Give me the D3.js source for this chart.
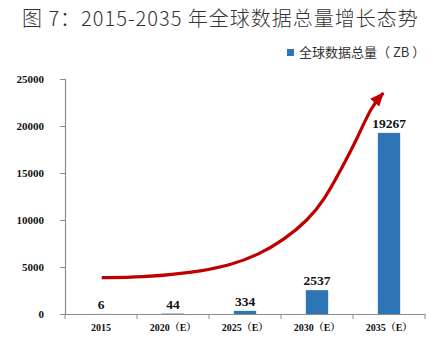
<!DOCTYPE html>
<html><head><meta charset="utf-8">
<script src="https://cdn.jsdelivr.net/npm/d3@7/dist/d3.min.js"></script>
<style>
html,body{margin:0;padding:0;background:#fff;}
svg{display:block;}
</style></head>
<body>
<script>
const categories = ["2015", "2020（E）", "2025（E）", "2030（E）", "2035（E）"];
const values = [6, 44, 334, 2537, 19267];
const yTicks = [0, 5000, 10000, 15000, 20000, 25000];
const seriesName = "全球数据总量（ ZB ）";
const titleText = "图 7：2015-2035 年全球数据总量增长态势";
// decorative trend arrow, in category-index units and value units
const trendX = [0.01, 0.56, 1.25, 1.81, 2.18, 2.54, 2.875, 3.10, 3.33, 3.57, 3.75, 3.92];
const trendY = [3860, 3900, 4360, 5210, 6280, 7870, 10000, 12130, 15320, 18830, 22020, 23510];

const W = 438, H = 344;
const svg = d3.select("body").append("svg").attr("width", W).attr("height", H);
const serif = "'Times New Roman','Liberation Serif','Noto Serif CJK SC','Noto Sans CJK SC',serif";
const sans = "'Noto Sans CJK SC',sans-serif";
const axisColor = "#8c8c8c";

const x = d3.scaleBand().domain(categories).range([65, 425]).paddingInner(0.69).paddingOuter(0.345);
const y = d3.scaleLinear().domain([0, 25000]).range([314, 79]);
const step = 72;
const xi = d3.scaleLinear().domain([0, 1]).range([65 + step / 2, 65 + step * 1.5]);

// title
svg.append("text").attr("x", 22).attr("y", 26)
  .attr("font-family", sans).attr("font-size", 20).attr("font-weight", 300)
  .attr("letter-spacing", 1).attr("fill", "#333")
  .text(titleText);

// legend
svg.append("rect").attr("x", 287).attr("y", 49).attr("width", 7).attr("height", 7).attr("fill", "#2e75b6");
svg.append("text").attr("x", 299).attr("y", 57)
  .attr("font-family", sans).attr("font-size", 13).attr("fill", "#333")
  .text(seriesName);

// y axis
const yAxis = d3.axisLeft(y).tickValues(yTicks).tickSize(5).tickPadding(16).tickFormat(d3.format("d"));
const gy = svg.append("g").attr("transform", "translate(65,0)").call(yAxis);
gy.select(".domain").attr("stroke", axisColor).attr("stroke-width", 1.2);
gy.selectAll(".tick line").attr("stroke", axisColor);
gy.selectAll(".tick text").attr("font-family", serif).attr("font-weight", "bold")
  .attr("font-size", 11).attr("fill", "#111");

// bars
svg.append("g").selectAll("rect").data(values).join("rect")
  .attr("x", (d, i) => x(categories[i]))
  .attr("width", x.bandwidth())
  .attr("y", d => y(d))
  .attr("height", d => y(0) - y(d))
  .attr("fill", "#2e75b6");

// value labels
svg.append("g").selectAll("text").data(values).join("text")
  .attr("x", (d, i) => x(categories[i]) + x.bandwidth() / 2)
  .attr("y", d => y(d) - 5)
  .attr("text-anchor", "middle")
  .attr("font-family", serif).attr("font-weight", "bold").attr("font-size", 13.5).attr("fill", "#111")
  .text(d => d);

// x axis
const xAxis = d3.axisBottom(x).tickSize(0).tickPadding(10);
const gx = svg.append("g").attr("transform", "translate(0,314)").call(xAxis);
gx.select(".domain").attr("stroke", axisColor).attr("stroke-width", 1.2);
gx.selectAll(".tick text").attr("font-family", serif).attr("font-weight", "bold")
  .attr("font-size", 10).attr("fill", "#111");
gx.selectAll(".bound").data(d3.range(categories.length + 1)).join("line")
  .attr("class", "bound")
  .attr("x1", i => 65 + i * step).attr("x2", i => 65 + i * step)
  .attr("y1", 0).attr("y2", 5).attr("stroke", axisColor);

// trend arrow
const defs = svg.append("defs");
defs.append("marker").attr("id", "arr").attr("markerUnits", "userSpaceOnUse")
  .attr("markerWidth", 14).attr("markerHeight", 12).attr("refX", 13).attr("refY", 6)
  .attr("orient", "auto")
  .append("path").attr("d", "M0,0 L14,6 L0,12 Z").attr("fill", "#c00000");

const line = d3.line().x((d, i) => xi(trendX[i])).y(d => y(d)).curve(d3.curveBasis);
svg.append("path").datum(trendY).attr("d", line)
  .attr("fill", "none").attr("stroke", "#c00000").attr("stroke-width", 3.2)
  .attr("marker-end", "url(#arr)");
</script>
</body></html>
